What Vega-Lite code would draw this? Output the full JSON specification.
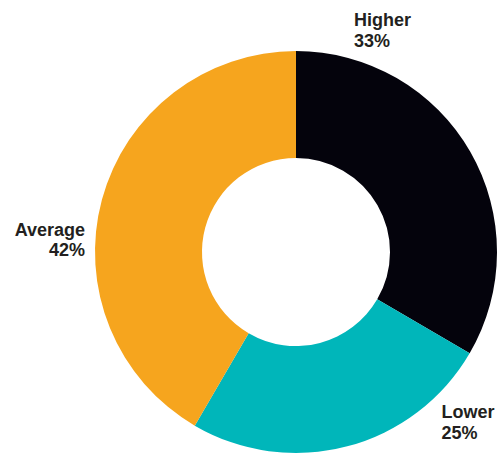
{
  "$schema": "https://vega.github.io/schema/vega-lite/v6.json",
  "width": 402,
  "height": 402,
  "autosize": "none",
  "padding": {"left": 95, "top": 51, "right": 2, "bottom": 1},
  "background": "white",
  "config": {"view": {"stroke": null}},
  "data": {
    "values": [
      {"category": "Higher", "value": 33.4, "rank": 1, "label": "Higher\n33%"},
      {"category": "Lower", "value": 25.0, "rank": 2, "label": "Lower\n25%"},
      {"category": "Average", "value": 41.6, "rank": 3, "label": "Average\n42%"}
    ]
  },
  "encoding": {
    "theta": {"field": "value", "type": "quantitative", "stack": true},
    "order": {"field": "rank", "type": "quantitative"}
  },
  "layer": [
    {
      "mark": {"type": "arc", "innerRadius": 94, "stroke": null},
      "encoding": {
        "color": {
          "field": "category",
          "type": "nominal",
          "scale": {"domain": ["Higher", "Lower", "Average"], "range": ["#04030c", "#00b6ba", "#f6a51e"]},
          "legend": null
        }
      }
    },
    {
      "mark": {"type": "text", "radius": 215, "dx": -128.4, "dy": -118.6, "align": "left", "baseline": "alphabetic", "lineBreak": "\n", "lineHeight": 20.5, "font": "Liberation Sans", "fontWeight": "bold", "fontSize": 18, "color": "#231f20"},
      "encoding": {
        "text": {"condition": {"test": "datum.category == 'Higher'", "field": "label"}, "value": ""}
      }
    },
    {
      "mark": {"type": "text", "radius": 215, "dx": 90.7, "dy": -41.6, "align": "left", "baseline": "alphabetic", "lineBreak": "\n", "lineHeight": 20.5, "font": "Liberation Sans", "fontWeight": "bold", "fontSize": 18, "color": "#231f20"},
      "encoding": {
        "text": {"condition": {"test": "datum.category == 'Lower'", "field": "label"}, "value": ""}
      }
    },
    {
      "mark": {"type": "text", "radius": 215, "dx": -3.4, "dy": 39.8, "align": "right", "baseline": "alphabetic", "lineBreak": "\n", "lineHeight": 20.5, "font": "Liberation Sans", "fontWeight": "bold", "fontSize": 18, "color": "#231f20"},
      "encoding": {
        "text": {"condition": {"test": "datum.category == 'Average'", "field": "label"}, "value": ""}
      }
    }
  ]
}
